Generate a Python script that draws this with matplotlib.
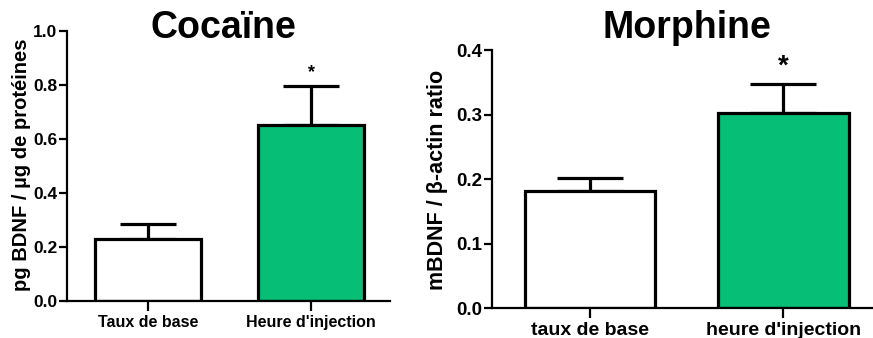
import matplotlib
matplotlib.use("Agg")
import matplotlib.pyplot as plt
from matplotlib import font_manager

# ---- data ----
coc_categories = ["Taux de base", "Heure d'injection"]
coc_values = [0.23, 0.652]
coc_errors = [0.054, 0.145]
coc_yticks = [0.0, 0.2, 0.4, 0.6, 0.8, 1.0]

mor_categories = ["taux de base", "heure d'injection"]
mor_values = [0.181, 0.302]
mor_errors = [0.021, 0.045]
mor_yticks = [0.0, 0.1, 0.2, 0.3, 0.4]

GREEN = "#07BE77"
names = {f.name for f in font_manager.fontManager.ttflist}
narrow = ["Liberation Sans Narrow"] if "Liberation Sans Narrow" in names else []
NARROW = narrow + ["Liberation Sans", "DejaVu Sans"]
ARIAL = ["Liberation Sans", "DejaVu Sans"]

fig = plt.figure(figsize=(8.73, 3.38), dpi=100)
W, H = 873, 338

def add_ax(x0, x1, ytop, ybot):
    return fig.add_axes([x0 / W, (H - ybot) / H, (x1 - x0) / W, (ybot - ytop) / H])

def style(ax, lw, ylen, ypad):
    for s in ["top", "right"]:
        ax.spines[s].set_visible(False)
    for s in ["left", "bottom"]:
        ax.spines[s].set_linewidth(lw)
    ax.tick_params(axis="y", width=lw, length=ylen, pad=ypad)
    ax.tick_params(axis="x", width=lw, length=7, pad=3)

# ---- Cocaine ----
ax1 = add_ax(67, 390, 31, 301)
x = range(len(coc_values))
ax1.bar(x, coc_values, width=0.65, color=["white", GREEN], edgecolor="black",
        linewidth=2.3, zorder=2)
ax1.errorbar(x, coc_values, yerr=[[0] * len(coc_errors), coc_errors], fmt="none",
             ecolor="black", elinewidth=2.3, capsize=20, capthick=2.3, zorder=1)
ax1.set_xlim(-0.5, 1.485)
ax1.set_ylim(0, 1.0)
ax1.set_yticks(coc_yticks)
ax1.set_yticklabels([f"{v:.1f}" for v in coc_yticks], family=NARROW,
                    fontweight="bold", fontsize=12.5)
ax1.set_xticks(list(x))
ax1.set_xticklabels(coc_categories, family=NARROW, fontweight="bold", fontsize=11.5)
style(ax1, 1.6, 6, 1)
ax1.text(1, coc_values[1] + coc_errors[1] + 0.05, "*", ha="center", va="center",
         fontsize=13, fontweight="bold", family=ARIAL)
fig.text(223 / W, 1 - 28 / H, "Cocaïne", ha="center", va="center", fontsize=27,
         fontweight="bold", family=ARIAL)
fig.text(22 / W, 1 - 165 / H, "pg BDNF / µg de protéines", rotation=90,
         ha="center", va="center", fontsize=14.5, fontweight="bold", family=ARIAL)

# ---- Morphine ----
ax2 = add_ax(491.7, 873, 50, 308.3)
x = range(len(mor_values))
ax2.bar(x, mor_values, width=0.675, color=["white", GREEN], edgecolor="black",
        linewidth=2.3, zorder=2)
ax2.errorbar(x, mor_values, yerr=[[0] * len(mor_errors), mor_errors], fmt="none",
             ecolor="black", elinewidth=2.3, capsize=24, capthick=2.3, zorder=1)
ax2.set_xlim(-0.509, 1.464)
ax2.set_ylim(0, 0.4)
ax2.set_yticks(mor_yticks)
ax2.set_yticklabels([f"{v:.1f}" for v in mor_yticks], family=ARIAL,
                    fontweight="bold", fontsize=13.5)
ax2.set_xticks(list(x))
ax2.set_xticklabels(mor_categories, family=ARIAL, fontweight="bold", fontsize=14)
style(ax2, 1.6, 6, 1)
ax2.text(1, mor_values[1] + mor_errors[1] + 0.028, "*", ha="center", va="center",
         fontsize=20, fontweight="bold", family=ARIAL)
fig.text(687 / W, 1 - 28 / H, "Morphine", ha="center", va="center", fontsize=27,
         fontweight="bold", family=ARIAL)
fig.text(437 / W, 1 - 180 / H, "mBDNF / β-actin ratio", rotation=90,
         ha="center", va="center", fontsize=15.5, fontweight="bold", family=ARIAL)

fig.savefig("out.png", dpi=100)
